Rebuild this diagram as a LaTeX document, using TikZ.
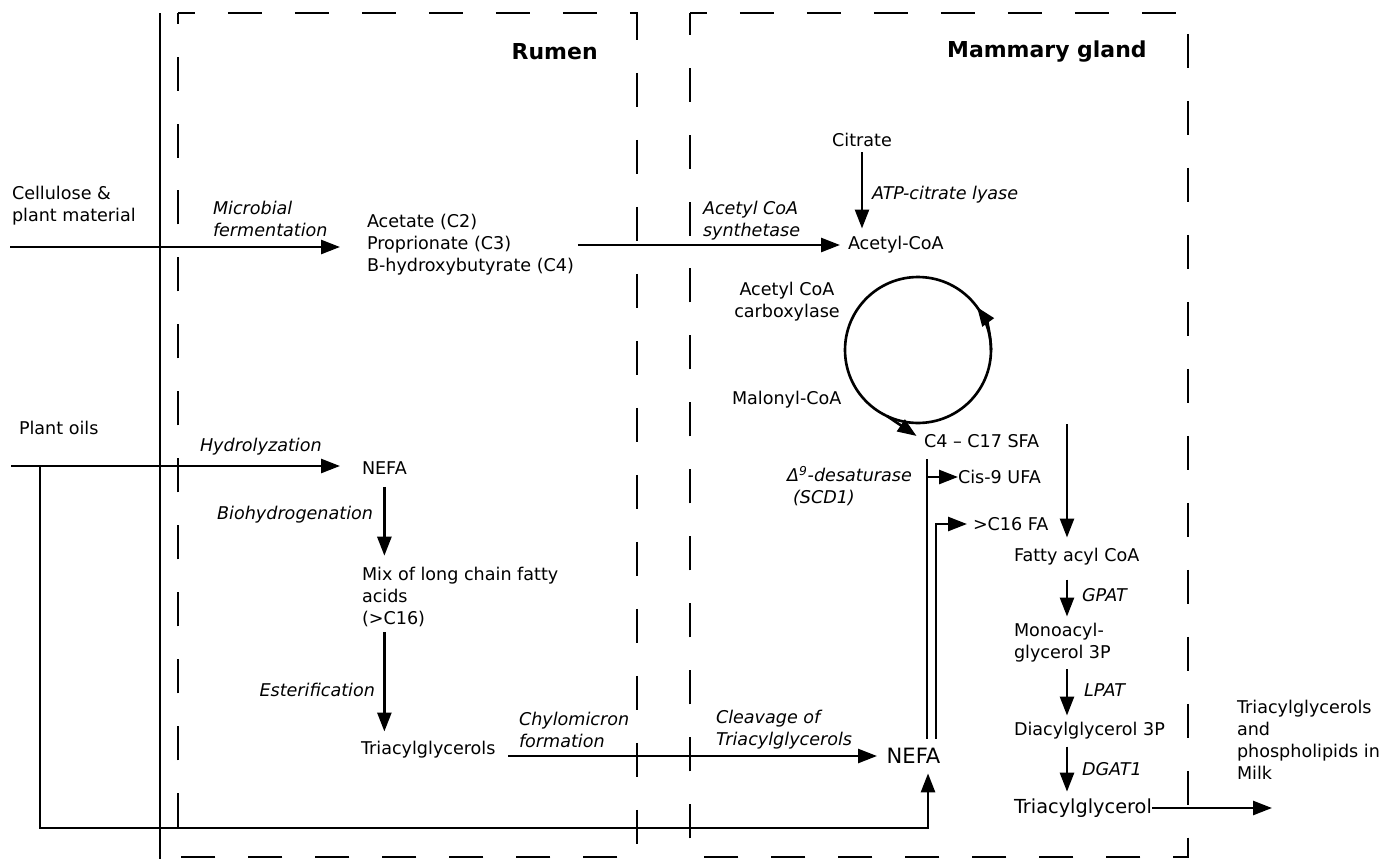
\documentclass[tikz,border=0pt]{standalone}
\usepackage{fontspec}
\setmainfont{DejaVu Sans}
\usetikzlibrary{arrows.meta}
\begin{document}
\begin{tikzpicture}[x=0.02cm, y=-0.02cm,
  txt/.style={inner sep=0pt, outer sep=0pt, align=left, anchor=west, font=\fontsize{10}{12.5}\selectfont},
  lbl/.style={txt, font=\fontsize{10}{12.5}\selectfont\itshape},
  head/.style={inner sep=0pt, anchor=east, font=\fontsize{12.5}{15}\selectfont\bfseries},
  region/.style={line width=1.5pt, dash pattern=on 0.68cm off 0.66cm, dash phase=0.34cm},
  link/.style={line width=1.5pt},
  flow/.style={link, -{Triangle[length=0.38cm, width=0.28cm]}},
  step2/.style={flow, shorten <=0.14cm, shorten >=0.14cm}]
\useasboundingbox (0,0) rectangle (1397,859);
\draw[link] (160,13) -- (160,859);
\draw[region] (178,13) -- (637,13) -- (637,857) -- (178,857) -- cycle;
\draw[region] (690,13) -- (1188,13) -- (1188,857) -- (690,857) -- cycle;
\node[head] (rumen) at (598,52) {Rumen};
\node[head] (mammary) at (1147,52) {Mammary gland};

\node[txt] (cellulose) at (12,206) {Cellulose \&\\plant material};
\coordinate (cellin) at (10,247);
\node[lbl] (microbial) at (213,219) {Microbial\\fermentation};
\node[txt] (vfa) at (367,245) {Acetate (C2)\\Proprionate (C3)\\B-hydroxybutyrate (C4)};
\draw[flow, shorten >=0.54cm] (cellin) -- (cellin -| vfa.west);

\node[txt] (oils) at (19,428) {Plant oils};
\coordinate (oilin) at (11,466);
\coordinate (oilsplit) at (40,466);
\coordinate (oilcorner) at (40,828);
\node[lbl] (hydro) at (200,447) {Hydrolyzation};
\node[txt] (nefar) at (362,468) {NEFA};
\draw[flow, shorten >=0.44cm] (oilin) -- (oilin -| nefar.west);
\node[lbl, anchor=east] (biohydro) at (373,515) {Biohydrogenation};
\node[txt] (mix) at (362,597) {Mix of long chain fatty\\acids\\(>C16)};
\draw[flow, shorten <=0.25cm, shorten >=0.23cm] (nefar) -- (nefar |- mix.north);
\node[lbl, anchor=east] (esterif) at (375,690) {Esterification};
\node[txt] (triacylr) at (361,750) {Triacylglycerols};
\draw[flow, shorten <=0.11cm, shorten >=0.2cm] (mix.south -| nefar) -- (nefar |- triacylr.north);
\node[lbl] (chylo) at (519,730) {Chylomicron\\formation};
\node[lbl] (cleavage) at (716,730) {Cleavage of\\Triacylglycerols};
\node[txt, inner sep=5.5pt, font=\fontsize{12}{14}\selectfont] (nefam) at (877,756) {NEFA};
\draw[flow, shorten <=0.26cm] (triacylr.east |- nefam.west) -- (nefam.west);
\draw[flow] (oilsplit) -- (oilcorner) -| ([xshift=0.29cm]nefam.south);

\node[txt, anchor=center] (citrate) at (862,140) {Citrate};
\node[lbl] (atp) at (872,195) {ATP-citrate lyase};
\node[lbl] (synth) at (703,221) {Acetyl CoA\\synthetase};
\node[txt] (acetylcoa) at (848,245) {Acetyl-CoA};
\draw[flow, shorten <=0.11cm, shorten >=0.16cm] (citrate) -- (citrate |- acetylcoa.north);
\draw[flow, shorten <=0.08cm, shorten >=0.16cm] (vfa.east) -- (acetylcoa.west);
\node[txt, anchor=center, align=center] (acc) at (787,302) {Acetyl CoA\\carboxylase};
\node[draw, circle, link, minimum size=2.92cm, inner sep=0pt, outer sep=0pt] (ring) at (918,350) {};
\draw[flow] (ring.0) arc[start angle=0, end angle=36, radius=1.46cm];
\node[txt] (malonyl) at (732,400) {Malonyl-CoA};
\node[txt] (sfa) at (924,441) {C4 -- C17 SFA};
\draw[flow, shorten >=0.18cm] (ring.245) -- (sfa.west);

\node[lbl] (desat) at (787,486) {Δ\textsuperscript{9}-desaturase\\\hspace{0.12cm}(SCD1)};
\node[txt] (cis9) at (958,477) {Cis-9 UFA};
\node[txt] (c16) at (973,524) {>C16 FA};
\coordinate (lipA) at (927,459);
\coordinate (lipB) at (936,524);
\draw[link] (lipA) -- (lipA |- nefam.north);
\draw[flow] (lipA |- cis9.west) -- (cis9.west);
\draw[flow, shorten >=0.12cm] (lipB |- nefam.north) -- (lipB) -- (c16.west);

\coordinate (sfadrop) at (1067,424);
\node[txt] (fattyacyl) at (1014,557) {Fatty acyl CoA};
\node[txt] (monoacyl) at (1014,643) {Monoacyl-\\glycerol 3P};
\node[txt] (diacyl) at (1014,731) {Diacylglycerol 3P};
\node[txt, font=\fontsize{11}{13}\selectfont] (triacylm) at (1014,808) {Triacylglycerol};
\node[lbl] (gpat) at (1082,595) {GPAT};
\node[lbl] (lpat) at (1084,690) {LPAT};
\node[lbl] (dgat) at (1082,769) {DGAT1};
\draw[flow, shorten >=0.22cm] (sfadrop) -- (sfadrop |- fattyacyl.north);
\draw[step2, shorten <=0.28cm] (fattyacyl.south -| sfadrop) -- (monoacyl.north -| sfadrop);
\draw[step2] (monoacyl.south -| sfadrop) -- (diacyl.north -| sfadrop);
\draw[step2] (diacyl.south -| sfadrop) -- (triacylm.north -| sfadrop);
\coordinate (milkout) at (1272,806);
\node[txt] (milk) at (1237,740) {Triacylglycerols\\and\\phospholipids in\\Milk};
\draw[flow] (triacylm.east) -- (triacylm.east -| milkout);
\end{tikzpicture}
\end{document}
